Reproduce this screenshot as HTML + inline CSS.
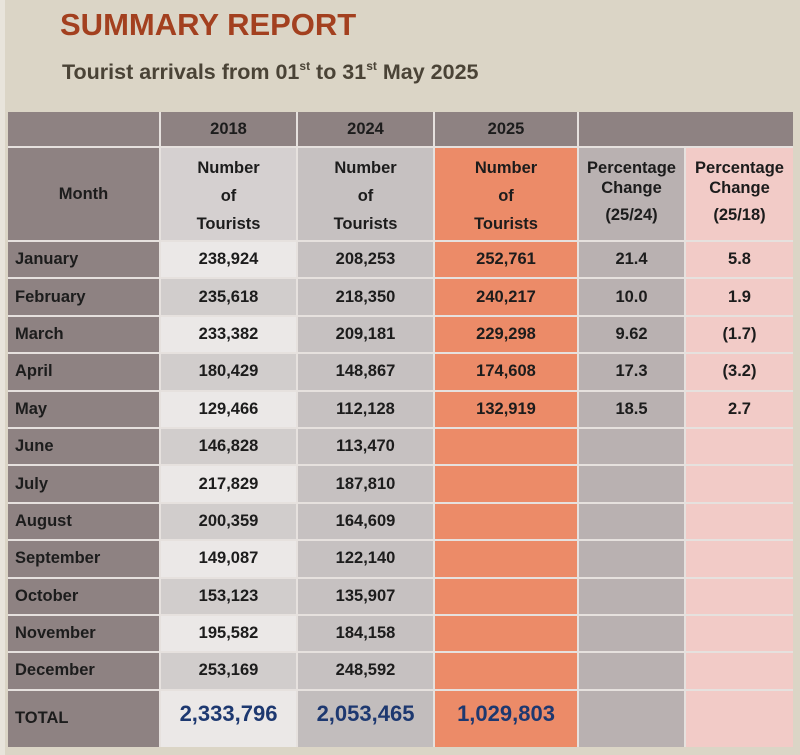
<!DOCTYPE html>
<html>
<head>
<meta charset="utf-8">
<style>
  html,body{margin:0;padding:0;}
  body{width:800px;height:755px;position:relative;overflow:hidden;background:#dbd5c6;font-family:"Liberation Sans",Arial,sans-serif;}
  .strip{position:absolute;left:0;top:0;width:5px;height:755px;background:#e8e4db;}
  .title{position:absolute;left:60px;top:6px;font-size:31px;font-weight:bold;color:#a3401f;line-height:38px;white-space:nowrap;}
  .sub{position:absolute;left:62px;top:58px;font-size:21.5px;font-weight:bold;color:#4a4336;line-height:28px;white-space:nowrap;}
  .sub sup{font-size:12px;vertical-align:0;position:relative;top:-9px;font-weight:bold;}
  .g{position:absolute;left:8px;top:112px;width:785px;height:635px;display:grid;
     grid-template-columns:151px 135px 135px 142px 105px 107px;
     grid-template-rows:34px 92px repeat(12,35.4px) 56px;gap:2px;background:#e6e1de;}
  .g div{display:flex;align-items:center;justify-content:center;text-align:center;font-weight:bold;font-size:16.5px;color:#1c1c1c;}
  .dk{background:#8e8282;}
  .m{justify-content:flex-start !important;padding-left:7px;}
  .a{background:#ebe8e7;}
  .b{background:#d1cdcc;}
  .c{background:#c6c1c1;}
  .o{background:#ec8b68;}
  .p{background:#b9b1b1;}
  .q{background:#f2cbc7;}
  .hn{display:block !important;line-height:28px;padding-top:6px;}
  .hp{display:block !important;line-height:20px;padding-top:10px;}
  .hp span{display:block;margin-top:7px;}
  .tot{font-size:22px !important;color:#1d3870 !important;padding-bottom:10px;}
</style>
</head>
<body>
<div class="strip"></div>
<div class="title">SUMMARY REPORT</div>
<div class="sub">Tourist arrivals from 01<sup>st</sup> to 31<sup>st</sup> May 2025</div>
<div class="g">
  <!-- header row 1 -->
  <div class="dk"></div>
  <div class="dk">2018</div>
  <div class="dk">2024</div>
  <div class="dk">2025</div>
  <div class="dk" style="grid-column:span 2;"></div>
  <!-- header row 2 -->
  <div class="dk">Month</div>
  <div class="hn" style="background:#d5d0d0;">Number<br>of<br>Tourists</div>
  <div class="hn c">Number<br>of<br>Tourists</div>
  <div class="hn o">Number<br>of<br>Tourists</div>
  <div class="hp p">Percentage<br>Change<span>(25/24)</span></div>
  <div class="hp q">Percentage<br>Change<span>(25/18)</span></div>

  <div class="dk m">January</div><div class="a">238,924</div><div class="c">208,253</div><div class="o">252,761</div><div class="p">21.4</div><div class="q">5.8</div>
  <div class="dk m">February</div><div class="b">235,618</div><div class="c">218,350</div><div class="o">240,217</div><div class="p">10.0</div><div class="q">1.9</div>
  <div class="dk m">March</div><div class="a">233,382</div><div class="c">209,181</div><div class="o">229,298</div><div class="p">9.62</div><div class="q">(1.7)</div>
  <div class="dk m">April</div><div class="b">180,429</div><div class="c">148,867</div><div class="o">174,608</div><div class="p">17.3</div><div class="q">(3.2)</div>
  <div class="dk m">May</div><div class="a">129,466</div><div class="c">112,128</div><div class="o">132,919</div><div class="p">18.5</div><div class="q">2.7</div>
  <div class="dk m">June</div><div class="b">146,828</div><div class="c">113,470</div><div class="o"></div><div class="p"></div><div class="q"></div>
  <div class="dk m">July</div><div class="a">217,829</div><div class="c">187,810</div><div class="o"></div><div class="p"></div><div class="q"></div>
  <div class="dk m">August</div><div class="b">200,359</div><div class="c">164,609</div><div class="o"></div><div class="p"></div><div class="q"></div>
  <div class="dk m">September</div><div class="a">149,087</div><div class="c">122,140</div><div class="o"></div><div class="p"></div><div class="q"></div>
  <div class="dk m">October</div><div class="b">153,123</div><div class="c">135,907</div><div class="o"></div><div class="p"></div><div class="q"></div>
  <div class="dk m">November</div><div class="a">195,582</div><div class="c">184,158</div><div class="o"></div><div class="p"></div><div class="q"></div>
  <div class="dk m">December</div><div class="b">253,169</div><div class="c">248,592</div><div class="o"></div><div class="p"></div><div class="q"></div>

  <div class="dk m">TOTAL</div>
  <div class="a tot">2,333,796</div>
  <div class="tot" style="background:#c2bdbd;">2,053,465</div>
  <div class="o tot">1,029,803</div>
  <div class="p"></div>
  <div class="q"></div>
</div>
</body>
</html>
